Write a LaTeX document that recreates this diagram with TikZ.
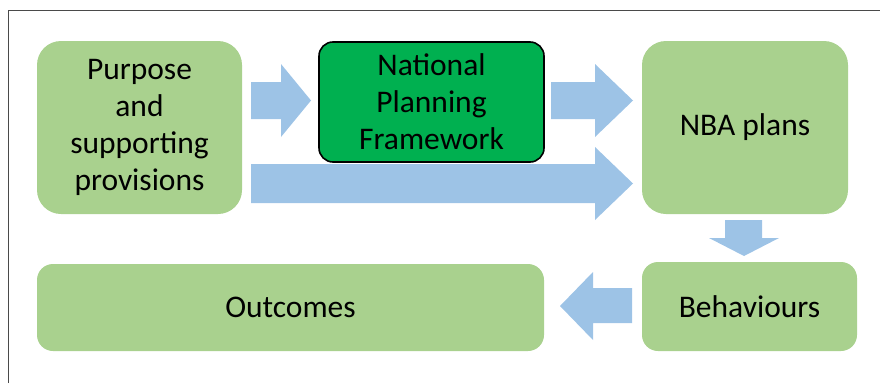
\documentclass[tikz,border=0pt]{standalone}
\usepackage{fontspec}
\setmainfont{Carlito}
\definecolor{lgreen}{HTML}{A9D18E}
\definecolor{dgreen}{HTML}{00B050}
\definecolor{arrblue}{HTML}{9DC3E6}
\definecolor{framegray}{HTML}{4A4A4A}
\begin{document}
\begin{tikzpicture}[x=1pt,y=-1pt,
  box/.style={fill=lgreen, rounded corners=18pt, inner sep=0pt, align=center,
    font=\fontsize{31.5}{37}\selectfont},
  npfbox/.style={fill=dgreen, draw=black, line width=1.6pt, rounded corners=14pt,
    inner sep=0pt, align=center, font=\fontsize{31.5}{37}\selectfont},
  blockarrow/.style={fill=arrblue}]
\useasboundingbox (0,0) rectangle (880,383);
\draw[framegray, line width=1pt] (8,383) -- (8,10) -- (880,10);

\node[box, rounded corners=24pt, minimum width=205pt, minimum height=173pt] (purpose) at (139.5,127.5)
  {Purpose\\and\\supporting\\provisions};
\node[npfbox, minimum width=225pt, minimum height=120pt] (npf) at (431.5,102)
  {National\\Planning\\Framework};
\node[box, rounded corners=24pt, minimum width=206pt, minimum height=173pt] (nba) at (745,127.5) {NBA plans};
\node[box, rounded corners=16pt, minimum width=215pt, minimum height=89pt] (behav) at (749.5,306.5) {Behaviours};
\node[box, rounded corners=16pt, minimum width=507pt, minimum height=87pt] (outc) at (290.5,307.5) {Outcomes};

% block arrows
\fill[blockarrow] (251,82) -- (281,82) -- (281,64) -- (311,100.5) -- (281,137) -- (281,119) -- (251,119) -- cycle;
\fill[blockarrow] (551,82) -- (595,82) -- (595,64) -- (633,100.5) -- (595,137) -- (595,119) -- (551,119) -- cycle;
\fill[blockarrow] (251,164) -- (595,164) -- (595,147) -- (633,183.5) -- (595,220) -- (595,203) -- (251,203) -- cycle;
\fill[blockarrow] (725,220) -- (762,220) -- (762,238) -- (779,238) -- (744,256) -- (709,238) -- (725,238) -- cycle;
\fill[blockarrow] (632,288) -- (593,288) -- (593,272) -- (560,306) -- (593,340) -- (593,323) -- (632,323) -- cycle;
\end{tikzpicture}
\end{document}
